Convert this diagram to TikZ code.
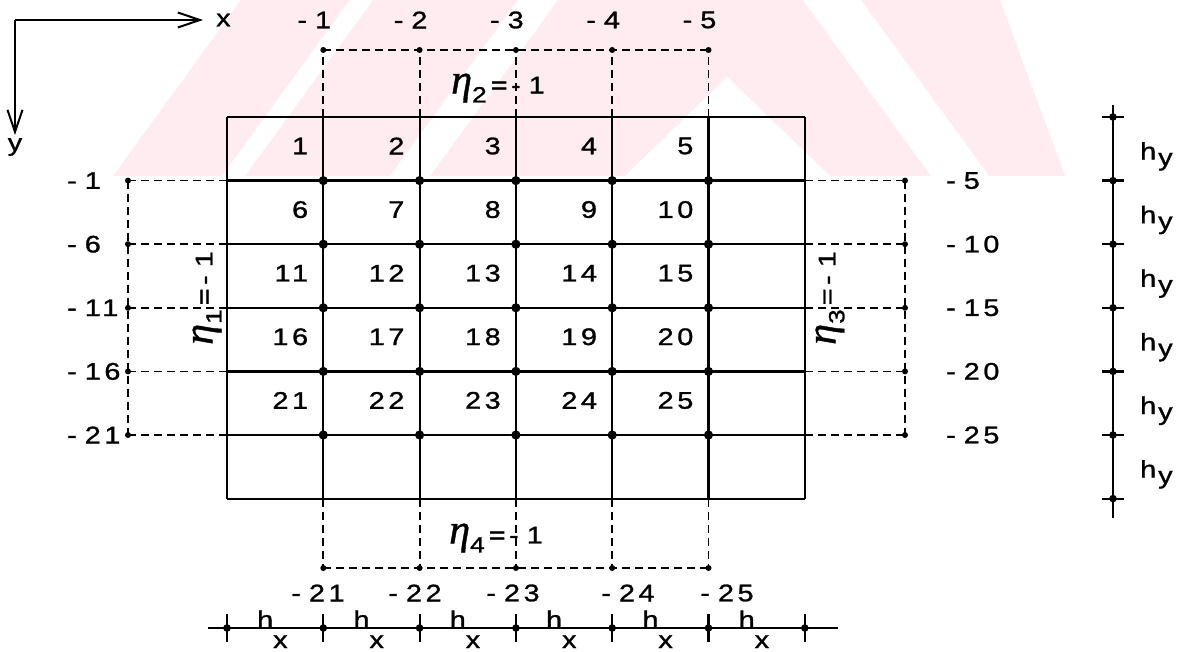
\documentclass[tikz,border=0pt]{standalone}
\usepackage{fontspec}
\setmainfont{Liberation Sans}
\newfontfamily\labfont[LetterSpace=15,FakeStretch=1.2,FakeBold=1.2]{Liberation Sans}
\newfontfamily\etafont[FakeBold=1]{Liberation Serif}
\usetikzlibrary{arrows.meta}
\definecolor{wmpink}{RGB}{254,236,240}
\newcommand\labsize{\labfont\fontsize{24}{26}\selectfont}
\newcommand\mn{-\kern8pt\relax}
\newcommand\etalab[1]{{\etafont\itshape\fontsize{42}{42}\selectfont η}\raisebox{-9pt}{\labfont\fontsize{22}{22}\selectfont #1}{\labsize\,=\mn 1}}
\tikzset{
  gridline/.style={line width=2.2pt},
  dsh/.style={line width=1.8pt, dash pattern=on 8pt off 5pt},
  lab/.style={font=\labsize, inner sep=0pt},
  cellnum/.style={lab, anchor=east},
}
\begin{document}
\begin{tikzpicture}[x=1pt,y=-1pt]
\useasboundingbox (0,0) rectangle (1183,652);
% faint watermark
\fill[wmpink] (113,176) -- (241,0) -- (1000,0) -- (1065,176) -- cycle;
\fill[white] (222,176) -- (350,0) -- (373,0) -- (245,176) -- cycle;
\fill[white] (390,176) -- (518,0) -- (558,0) -- (430,176) -- cycle;
\fill[white] (727,77) -- (830,176) -- (625,176) -- cycle;
\fill[white] (931,176) -- (803,0) -- (861,0) -- (989,176) -- cycle;
% axes
\coordinate (O) at (15,20);
\coordinate (xend) at (203,20);
\coordinate (yend) at (15,135);
\draw[line width=2pt,-{Straight Barb[length=22pt,width=15pt]}] (O) -- (xend);
\draw[line width=2pt,-{Straight Barb[length=22pt,width=15pt]}] (O) -- (yend);
\node[lab,anchor=west] (xl) at (216,20) {x};
\node[lab] (yl) at (15,147) {y};
% grid coordinates
\foreach \i in {0,...,6}{\foreach \j in {0,...,6}{\coordinate (g-\i-\j) at ({227+96.3*\i},{117+63.6*\j});}}
\foreach \i in {0,...,6}{\draw[gridline] (g-\i-0) -- (g-\i-6); \draw[gridline] (g-0-\i) -- (g-6-\i);}
% dashed boundary lines
\foreach \i in {1,...,5}{
  \coordinate (T\i) at ({227+96.3*\i},50);
  \coordinate (B\i) at ({227+96.3*\i},568);
  \coordinate (L\i) at (128,{117+63.6*\i});
  \coordinate (R\i) at (905,{117+63.6*\i});
  \draw[dsh] (g-\i-0) -- (T\i);
  \draw[dsh] (g-\i-6) -- (B\i);
  \draw[dsh] (g-0-\i) -- (L\i);
  \draw[dsh] (g-6-\i) -- (R\i);
}
\draw[dsh] (T1) -- (T5);
\draw[dsh] (B1) -- (B5);
\draw[dsh] (L1) -- (L5);
\draw[dsh] (R1) -- (R5);
\foreach \i in {1,...,5}{
  \fill (T\i) circle (3); \fill (B\i) circle (3);
  \fill (L\i) circle (3); \fill (R\i) circle (3);
  \foreach \j in {1,...,5}{\fill (g-\i-\j) circle (4.6);}
}
% cell numbers
\foreach \j in {1,...,5}{\foreach \i in {1,...,5}{
  \pgfmathtruncatemacro\n{5*(\j-1)+\i}
  \node[cellnum] (c\n) at ({227+96.3*\i-15},{117+63.6*(\j-1)+29}) {\n};
}}
% boundary labels
\foreach \i in {1,...,5}{
  \node[lab] (t\i) at ({227+96.3*\i-9},20) {\mn\i};
  \pgfmathtruncatemacro\m{5*\i-4}
  \node[lab,anchor=west] (l\i) at (67,{117+63.6*\i}) {\mn\m};
  \pgfmathtruncatemacro\r{5*\i}
  \node[lab,anchor=west] (r\i) at (946,{117+63.6*\i}) {\mn\r};
}
\foreach \k/\xx in {1/318,2/415,3/513,4/628,5/727}{\node[lab] (b\k) at (\xx,593) {\mn2\k};}
% eta labels
\node[inner sep=0pt] (eta2) at (498,88) {\etalab{2}};
\node[inner sep=0pt] (eta4) at (496,538) {\etalab{4}};
\node[inner sep=0pt,rotate=90] (eta1) at (207,298) {\etalab{1}};
\node[inner sep=0pt,rotate=90] (eta3) at (830,298) {\etalab{3}};
% hx scale
\coordinate (hxa) at (208,628);
\coordinate (hxb) at (838,628);
\draw[gridline] (hxa) -- (hxb);
\foreach \i in {0,...,6}{
  \coordinate (hx\i) at ({227+96.3*\i},628);
  \draw[gridline] ([yshift=-14pt]hx\i) -- ([yshift=14pt]hx\i);
  \fill (hx\i) circle (3.8);
}
\foreach \i in {0,...,5}{
  \node[lab,anchor=base west] (hxh\i) at ({227+96.3*\i+30},628) {h};
  \node[lab,anchor=base west] (hxs\i) at ({227+96.3*\i+46},648) {x};
}
% hy scale
\coordinate (hya) at (1113,105);
\coordinate (hyb) at (1113,518);
\draw[gridline] (hya) -- (hyb);
\foreach \j in {0,...,6}{
  \coordinate (hy\j) at (1113,{117+63.6*\j});
  \draw[gridline] ([xshift=-11pt]hy\j) -- ([xshift=11pt]hy\j);
  \fill (hy\j) circle (3.8);
}
\foreach \j in {1,...,6}{
  \node[lab,anchor=base west] (hyh\j) at (1140,{117+63.6*\j-21}) {h};
  \node[lab,anchor=base west] (hys\j) at (1158,{117+63.6*\j-15}) {y};
}
\end{tikzpicture}
\end{document}
